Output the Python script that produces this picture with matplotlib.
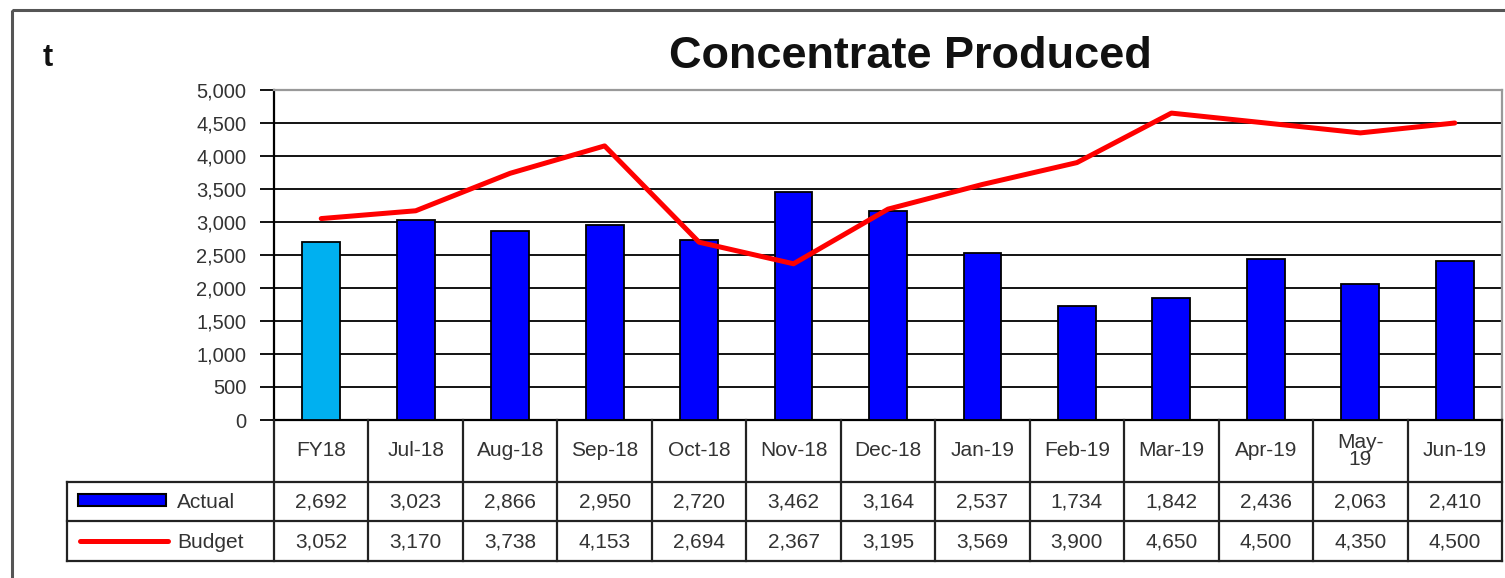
import matplotlib
matplotlib.use("Agg")
import matplotlib.pyplot as plt
from matplotlib.patches import Rectangle
import numpy as np

plt.rcParams['font.family'] = ['Liberation Sans', 'DejaVu Sans']

W, H = 1505, 578

# data
months = ['FY18', 'Jul-18', 'Aug-18', 'Sep-18', 'Oct-18', 'Nov-18', 'Dec-18',
          'Jan-19', 'Feb-19', 'Mar-19', 'Apr-19', 'May-\n19', 'Jun-19']
actual = [2692, 3023, 2866, 2950, 2720, 3462, 3164, 2537, 1734, 1842, 2436, 2063, 2410]
budget = [3052, 3170, 3738, 4153, 2694, 2367, 3195, 3569, 3900, 4650, 4500, 4350, 4500]
yticks = list(range(0, 5001, 500))

text_col = '#333333'
bar_cols = ['#00B0F0'] + ['#0000FF'] * (len(actual) - 1)
fs = 15

fig = plt.figure(figsize=(W / 100, H / 100), dpi=100)

# main plot area (pixel layout from the reference)
left, right, top, bottom = 274, 1502, 90, 420
ax = fig.add_axes([left / W, 1 - bottom / H, (right - left) / W, (bottom - top) / H])
x = np.arange(len(months))
ax.bar(x, actual, width=0.4, color=bar_cols, edgecolor='black', linewidth=1.3, zorder=3)
ax.plot(x, budget, color='#FF0000', lw=3.6, zorder=4,
        solid_capstyle='round', solid_joinstyle='round')
ax.set_xlim(-0.5, len(months) - 0.5)
ax.set_ylim(0, 5000)
ax.set_yticks(yticks)
ax.set_yticklabels(['{:,}'.format(v) for v in yticks])
ax.set_xticks([])
ax.yaxis.grid(True, color='black', lw=1.3, zorder=0)
ax.tick_params(axis='y', direction='out', length=10, width=1.3, pad=10,
               labelsize=fs - 0.5, labelcolor=text_col)
for s in ['left', 'bottom']:
    ax.spines[s].set_color('black')
    ax.spines[s].set_linewidth(1.6)
for s in ['top', 'right']:
    ax.spines[s].set_color('#999999')
    ax.spines[s].set_linewidth(1.6)

# overlay in pixel coordinates for the data table and frame
ov = fig.add_axes([0, 0, 1, 1], zorder=5)
ov.set_xlim(0, W)
ov.set_ylim(H, 0)
ov.axis('off')
ov.patch.set_alpha(0)

def col_px(v):
    return ax.transData.transform((v, 0))[0]

edges = [col_px(i - 0.5) for i in range(len(months) + 1)]
centers = [col_px(i) for i in range(len(months))]
hdr_bot, act_bot, bud_bot = 482, 521, 561
leg_left = 67
lc = '#222222'
lw = 1.6

for e in edges:
    ov.plot([e, e], [bottom, bud_bot], color=lc, lw=lw)
for yy in [hdr_bot, act_bot, bud_bot]:
    ov.plot([leg_left, edges[-1]], [yy, yy], color=lc, lw=lw)
ov.plot([leg_left, leg_left], [hdr_bot, bud_bot], color=lc, lw=lw)

for cx, m in zip(centers, months):
    ov.text(cx, (bottom + hdr_bot) / 2, m, ha='center', va='center',
            fontsize=fs, color=text_col, linespacing=0.9)
for cx, a, b in zip(centers, actual, budget):
    ov.text(cx, (hdr_bot + act_bot) / 2 + 1, '{:,}'.format(a), ha='center',
            va='center', fontsize=fs, color=text_col)
    ov.text(cx, (act_bot + bud_bot) / 2 + 1, '{:,}'.format(b), ha='center',
            va='center', fontsize=fs, color=text_col)

# legend keys
ov.add_patch(Rectangle((78, 494), 88, 12, facecolor='#0000FF', edgecolor='black', lw=1.5))
ov.plot([80, 168], [541, 541], color='#FF0000', lw=3.6, solid_capstyle='round')
ov.text(177, (hdr_bot + act_bot) / 2 + 1, 'Actual', ha='left', va='center',
        fontsize=fs, color=text_col)
ov.text(177, (act_bot + bud_bot) / 2 + 1, 'Budget', ha='left', va='center',
        fontsize=fs, color=text_col)

# outer frame
ov.add_patch(Rectangle((12, 10), W + 20, H + 20, facecolor='none',
                       edgecolor='#555555', lw=2.2, clip_on=False))

ov.text(910, 56, 'Concentrate Produced', ha='center', va='center',
        fontsize=32.5, fontweight='bold', color='#111111')
ov.text(48, 58, 't', ha='center', va='center', fontsize=22,
        fontweight='bold', color='#111111')

fig.savefig('out.png', dpi=100)
